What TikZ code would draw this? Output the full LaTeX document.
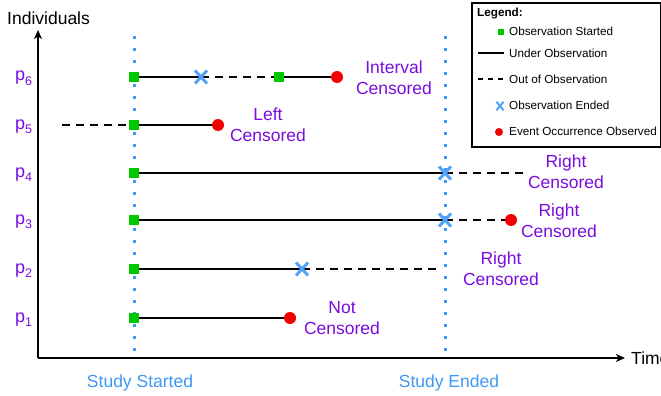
\documentclass[tikz,border=0pt]{standalone}
\usepackage{fontspec}
\setmainfont{Liberation Sans}
\usetikzlibrary{arrows.meta,shapes.misc,backgrounds}
\definecolor{purp}{RGB}{122,12,222}
\definecolor{sblue}{RGB}{62,152,245}
\definecolor{xblue}{RGB}{80,162,250}
\definecolor{sgreen}{RGB}{0,200,0}
\definecolor{sred}{RGB}{242,0,0}
\begin{document}
\begin{tikzpicture}[x=1pt,y=-1pt,
  bigfont/.style={font=\fontsize{17.5}{21}\selectfont},
  smallfont/.style={font=\fontsize{11.7}{14}\selectfont},
  startbox/.style={rectangle, fill=sgreen, minimum size=10pt, inner sep=0pt},
  endx/.style={cross out, draw=xblue, line width=3pt, minimum width=9pt, minimum height=10pt, inner sep=0pt},
  event/.style={circle, fill=sred, minimum size=12pt, inner sep=0pt},
  obsline/.style={line width=2.9pt},
  outline/.style={line width=2.9pt, dash pattern=on 8pt off 6pt},
  studyline/.style={sblue, line width=3pt, dash pattern=on 3pt off 9pt},
  axisline/.style={line width=1.8pt},
  lbl/.style={bigfont, text=purp, align=center, inner sep=0pt},
  plbl/.style={text=purp, inner sep=0pt, anchor=base west},
  studylbl/.style={bigfont, text=sblue, inner sep=0pt, anchor=base},
  legtext/.style={smallfont, anchor=west, inner sep=0pt}
]
\useasboundingbox (0,0) rectangle (661,396);

% axes
\coordinate (O) at (38,358);
\coordinate (ytop) at (38,30);
\coordinate (xend) at (625,358);
\draw[axisline,-{Stealth[length=9pt,width=8pt,inset=2.5pt]}] (O) -- (ytop);
\draw[axisline,-{Stealth[length=9pt,width=8pt,inset=2.5pt]}] (O) -- (xend);
\node[bigfont, inner sep=0pt, anchor=base west] (ind) at (7,25) {Individuals};
\node[bigfont, inner sep=0pt, anchor=base west] (time) at (631,364) {Time};

% study lines
\coordinate (ss1) at (134,36);
\coordinate (ss2) at (134,358);
\coordinate (se1) at (445,36);
\coordinate (se2) at (445,358);
\draw[studyline] (ss1) -- (ss2);
\draw[studyline] (se1) -- (se2);
\node[studylbl] (sstart) at (140,387) {Study Started};
\node[studylbl] (send) at (449,387) {Study Ended};

% row labels
\foreach \i/\yy in {6/77,5/125,4/173,3/220,2/269,1/318}{
  \node[plbl] (p\i) at (15,\yy+4) {\fontsize{18}{20}\selectfont p\raisebox{-0.25em}{\fontsize{12.5}{12.5}\selectfont \i}};
}

% markers
\node[startbox] (s6) at (134,77) {};
\node[endx] (x6) at (201,77) {};
\node[startbox] (s6b) at (279,77) {};
\node[event] (e6) at (337,77) {};

\coordinate (f5) at (62,125);
\node[startbox] (s5) at (134,125) {};
\node[event] (e5) at (218,125) {};

\node[startbox] (s4) at (134,173) {};
\node[endx] (x4) at (445,173) {};
\coordinate (f4) at (523,173);

\node[startbox] (s3) at (134,220) {};
\node[endx] (x3) at (445,220) {};
\node[event] (e3) at (511,220) {};

\node[startbox] (s2) at (134,269) {};
\node[endx] (x2) at (302,269) {};
\coordinate (f2) at (437,269);

\node[startbox] (s1) at (134,318) {};
\node[event] (e1) at (290,318) {};

\begin{scope}[on background layer]
  \draw[obsline] (s6.center) -- (x6.center);
  \draw[outline] (x6.center) -- (s6b.center);
  \draw[obsline] (s6b.center) -- (e6.center);
  \draw[outline] (f5) -- (s5.center);
  \draw[obsline] (s5.center) -- (e5.center);
  \draw[obsline] (s4.center) -- (x4.center);
  \draw[outline] (x4.center) -- (f4);
  \draw[obsline] (s3.center) -- (x3.center);
  \draw[outline] (x3.center) -- (e3.center);
  \draw[obsline] (s2.center) -- (x2.center);
  \draw[outline] (x2.center) -- (f2);
  \draw[obsline] (s1.center) -- (e1.center);
\end{scope}

% case labels
\node[lbl] (l6) at (394,78) {Interval\\Censored};
\node[lbl] (l5) at (268,125) {Left\\Censored};
\node[lbl] (l4) at (566,172) {Right\\Censored};
\node[lbl] (l3) at (559,221) {Right\\Censored};
\node[lbl] (l2) at (501,269) {Right\\Censored};
\node[lbl] (l1) at (342,318) {Not\\Censored};

% legend
\node[draw, line width=2pt, minimum width=189pt, minimum height=144pt, anchor=north west, inner sep=0pt] (legend) at (471,2) {};
\node[smallfont, inner sep=0pt, anchor=west] (legtitle) at (477,14) {\bfseries Legend:};
\node[rectangle, fill=sgreen, minimum size=6pt, inner sep=0pt] (lg1) at (501,32) {};
\node[legtext] (lt1) at (509,31) {Observation Started};
\coordinate (lg2a) at (478,53);
\coordinate (lg2b) at (504,53);
\draw[line width=1.4pt] (lg2a) -- (lg2b);
\node[legtext] (lt2) at (509,53) {Under Observation};
\coordinate (lg3a) at (478,79);
\coordinate (lg3b) at (504,79);
\draw[line width=1.4pt, dash pattern=on 5pt off 5pt] (lg3a) -- (lg3b);
\node[legtext] (lt3) at (509,79) {Out of Observation};
\node[cross out, draw=xblue, line width=2pt, minimum width=5pt, minimum height=6.5pt, inner sep=0pt] (lg4) at (500,106) {};
\node[legtext] (lt4) at (509,105) {Observation Ended};
\node[circle, fill=sred, minimum size=8pt, inner sep=0pt] (lg5) at (499,132) {};
\node[legtext] (lt5) at (509,131) {Event Occurrence Observed};
\end{tikzpicture}
\end{document}
